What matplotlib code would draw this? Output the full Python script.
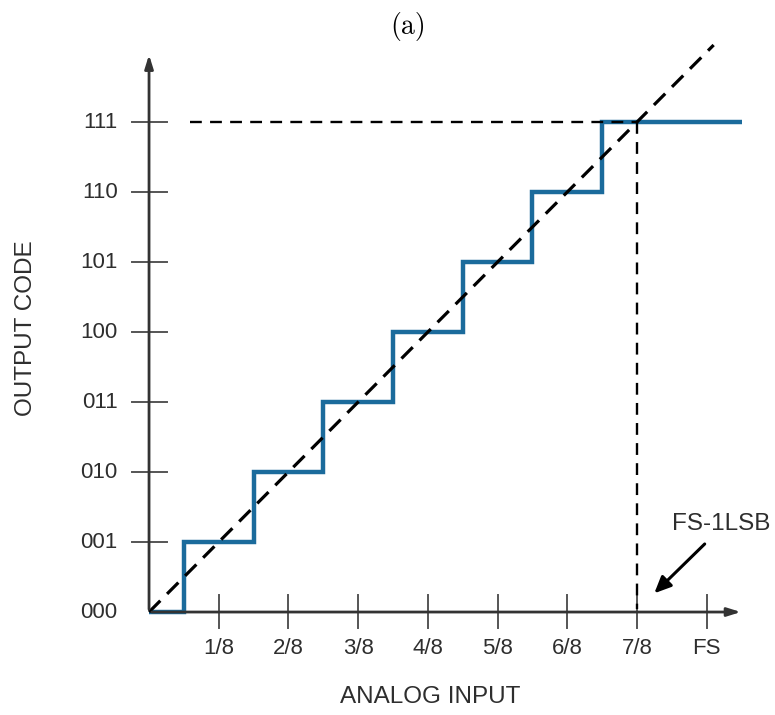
import matplotlib.pyplot as plt
import numpy as np

# data
codes = ['000', '001', '010', '011', '100', '101', '110', '111']
x_labels = ['1/8', '2/8', '3/8', '4/8', '5/8', '6/8', '7/8', 'FS']
x_ticks = [1, 2, 3, 4, 5, 6, 7, 8]
step_edges = [0, 0.5, 1.5, 2.5, 3.5, 4.5, 5.5, 6.5, 8.5]
step_levels = [0, 1, 2, 3, 4, 5, 6, 7]
ideal_x = [0, 8.1]
ideal_y = [0, 8.1]

blue = '#1b6b9c'
axc = '#333333'
txtc = '#2e2e2e'
sans = ['Liberation Sans', 'DejaVu Sans']

fig = plt.figure(figsize=(7.75, 7.15), dpi=100)
ax = fig.add_axes([0, 0, 1, 1])
ax.set_xlim(-2.138, 8.98)
ax.set_ylim(-1.471, 8.743)
ax.axis('off')

# axes with arrows
ax.annotate('', xy=(0, 8.0), xytext=(0, 0),
            arrowprops=dict(arrowstyle='-|>,head_length=0.8,head_width=0.25', color=axc, lw=2))
ax.annotate('', xy=(8.53, 0), xytext=(0, 0),
            arrowprops=dict(arrowstyle='-|>,head_length=0.8,head_width=0.25', color=axc, lw=2))

# tick marks
for i, c in enumerate(codes):
    if i > 0:
        ax.plot([-0.245, 0.26], [i, i], color='#555555', lw=1.4)
    ax.text(-0.45, i, c, ha='right', va='center', fontsize=16, family=sans, color=txtc)
for t, lab in zip(x_ticks, x_labels):
    ax.plot([t, t], [0.24, -0.23], color='#555555', lw=1.4)
    ax.text(t, -0.52, lab, ha='center', va='center', fontsize=16, family=sans, color=txtc)

# dashed guide lines
ax.plot([0.59, 7], [7, 7], color='black', lw=1.7, dashes=(5, 3.5))
ax.plot([7, 7], [7, 0.05], color='black', lw=1.7, dashes=(5, 3.5))
ax.plot(ideal_x, ideal_y, color='black', lw=2.3, dashes=(5, 3))

# transfer staircase
ax.stairs(step_levels, step_edges, baseline=None, color=blue, lw=3.2)

# annotation
ax.annotate('', xy=(7.22, 0.24), xytext=(8.0, 1.0),
            arrowprops=dict(arrowstyle='-|>,head_length=1.0,head_width=0.45', color='black', lw=2.2))
ax.text(8.21, 1.26, 'FS-1LSB', ha='center', va='center', fontsize=17.5, family=sans, color=txtc)

ax.text(4.03, -1.21, 'ANALOG INPUT', ha='center', va='center', fontsize=17.5, family=sans, color=txtc)
ax.text(-1.76, 4.05, 'OUTPUT CODE', ha='center', va='center', rotation=90, fontsize=17.5,
        family=sans, color=txtc)

ax.text(3.71, 8.36, '(a)', ha='center', va='center', fontsize=20, family=['cmr10', 'DejaVu Serif'])

fig.savefig('out.png', dpi=100)
